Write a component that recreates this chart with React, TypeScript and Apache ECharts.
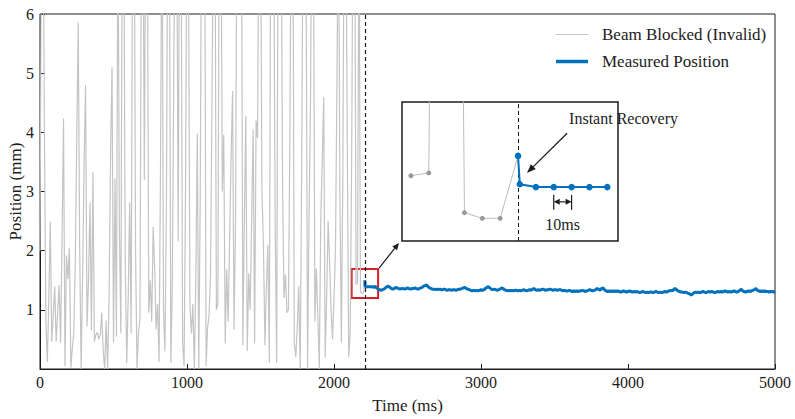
import React, { useEffect, useRef } from "react";
import * as echarts from "echarts";

// Sampling period of the position sensor (ms)
const SAMPLE_MS = 10;

// Readings while the beam is blocked, one every SAMPLE_MS from t = 0 ms (mm)
const blockedValues = [
  2.0, 8.0, 8.5, 4.0, 0.8, 0.12, 1.2, 2.49, 0.46, 0.9,
  1.39, 0.46, 0.95, 1.42, 0.44, 2.2, 4.23, 0.05, 1.92, 1.52,
  2.05, 0.02, 0.35, 0.62, 1.8, 3.9, 5.85, 2.0, 0.0, 1.6,
  3.5, 4.8, 0.72, 1.5, 2.82, 0.65, 3.33, 0.46, 0.58, 0.62,
  0.5, 0.58, 0.95, 0.3, 0.0, 0.82, 0.0, 1.2, 3.6, 5.1,
  0.45, 3.22, 0.55, 8.0, 2.4, 0.6, 8.2, 7.6, 1.8, 0.1,
  1.2, 2.82, 0.6, 7.8, 8.4, 2.0, 0.0, 0.62, 0.85, 7.5,
  8.2, 3.2, 8.5, 7.8, 0.95, 1.5, 0.8, 2.4, 1.7, 0.67,
  1.1, 0.12, 3.5, 8.5, 1.0, 0.3, 2.8, 8.2, 7.9, 0.1,
  1.4, 5.0, 8.6, 8.0, 2.16, 8.3, 7.7, 0.44, 0.05, 3.0,
  8.4, 6.9, 1.06, 0.6, 1.1, 0.0, 1.5, 3.98, 0.0, 2.9,
  8.5, 7.6, 8.0, 0.05, 0.7, 0.9, 1.6, 4.5, 8.3, 7.8,
  1.0, 1.1, 8.2, 8.8, 3.0, 3.96, 0.43, 1.68, 0.8, 2.2,
  3.6, 4.7, 0.66, 2.4, 8.1, 8.6, 7.9, 8.4, 0.4, 2.5,
  4.28, 0.3, 1.62, 1.0, 2.6, 4.05, 0.43, 4.2, 3.9, 8.4,
  7.9, 3.0, 2.1, 0.4, 1.4, 2.1, 0.1, 8.3, 8.7, 7.5,
  2.4, 0.1, 8.0, 8.6, 8.2, 3.1, 1.2, 1.6, 0.95, 1.0,
  4.0, 8.5, 8.0, 0.45, 0.2, 0.7, 1.4, 0.0, 3.3, 8.1,
  8.8, 7.0, 0.0, 2.5, 4.5, 8.4, 7.7, 0.8, 1.7, 0.9,
  0.0, 2.55, 3.5, 4.6, 0.2, 1.2, 2.5, 1.8, 1.0, 0.5,
  1.2, 2.0, 4.85, 8.2, 3.0, 0.45, 3.2, 8.5, 8.0, 4.0,
  0.2, 0.6, 3.5, 8.3, 8.7, 1.43, 1.44, 8.0, 1.3, 1.28,
  1.28, 1.5,
];

// Moment the beam is cleared and the first valid readings after it
const RECOVERY_MS = 2210;
const recoveryTimes = [2210, 2211];
const recoveryValues = [1.5, 1.4];

// Valid readings, one every SAMPLE_MS from t = 2220 ms (mm)
const MEASURED_START_MS = 2220;
const measuredValues = [
  1.39, 1.39, 1.39, 1.39, 1.39, 1.38, 1.40, 1.37, 1.35, 1.34,
  1.33, 1.34, 1.35, 1.37, 1.39, 1.40, 1.38, 1.36, 1.35, 1.36,
  1.38, 1.37, 1.36, 1.35, 1.36, 1.36, 1.35, 1.36, 1.37, 1.36,
  1.35, 1.36, 1.36, 1.37, 1.36, 1.35, 1.36, 1.37, 1.38, 1.40,
  1.41, 1.42, 1.39, 1.37, 1.36, 1.35, 1.35, 1.34, 1.35, 1.34,
  1.35, 1.34, 1.34, 1.35, 1.34, 1.33, 1.34, 1.34, 1.33, 1.34,
  1.34, 1.33, 1.34, 1.35, 1.35, 1.36, 1.37, 1.38, 1.36, 1.35,
  1.34, 1.33, 1.32, 1.33, 1.32, 1.33, 1.32, 1.33, 1.34, 1.33,
  1.34, 1.36, 1.38, 1.39, 1.37, 1.35, 1.34, 1.35, 1.34, 1.33,
  1.34, 1.35, 1.37, 1.36, 1.34, 1.33, 1.32, 1.33, 1.32, 1.33,
  1.32, 1.33, 1.33, 1.32, 1.33, 1.32, 1.33, 1.34, 1.33, 1.32,
  1.33, 1.34, 1.33, 1.35, 1.36, 1.34, 1.33, 1.34, 1.33, 1.34,
  1.35, 1.34, 1.33, 1.34, 1.34, 1.35, 1.34, 1.33, 1.34, 1.34,
  1.33, 1.34, 1.34, 1.33, 1.32, 1.33, 1.32, 1.32, 1.33, 1.32,
  1.31, 1.32, 1.31, 1.32, 1.31, 1.32, 1.32, 1.33, 1.32, 1.31,
  1.32, 1.33, 1.34, 1.33, 1.32, 1.33, 1.34, 1.36, 1.35, 1.33,
  1.36, 1.37, 1.34, 1.32, 1.31, 1.32, 1.31, 1.32, 1.31, 1.32,
  1.31, 1.32, 1.31, 1.30, 1.31, 1.32, 1.31, 1.30, 1.31, 1.32,
  1.31, 1.30, 1.31, 1.30, 1.31, 1.30, 1.29, 1.30, 1.31, 1.30,
  1.29, 1.30, 1.29, 1.30, 1.30, 1.29, 1.30, 1.31, 1.30, 1.29,
  1.30, 1.29, 1.30, 1.31, 1.30, 1.31, 1.32, 1.33, 1.32, 1.34,
  1.36, 1.34, 1.32, 1.31, 1.30, 1.30, 1.29, 1.30, 1.29, 1.28,
  1.27, 1.25, 1.27, 1.29, 1.30, 1.29, 1.30, 1.29, 1.30, 1.31,
  1.30, 1.29, 1.30, 1.31, 1.30, 1.31, 1.30, 1.29, 1.30, 1.31,
  1.30, 1.31, 1.30, 1.31, 1.32, 1.31, 1.30, 1.31, 1.30, 1.31,
  1.32, 1.31, 1.30, 1.31, 1.33, 1.35, 1.32, 1.31, 1.30, 1.31,
  1.32, 1.31, 1.32, 1.33, 1.34, 1.36, 1.33, 1.32, 1.31, 1.32,
  1.31, 1.32, 1.31, 1.31, 1.30, 1.31, 1.31, 1.30, 1.31,
];

// Region highlighted on the main plot and shown enlarged in the inset
const zoomBoxTime = [2120, 2300];
const zoomBoxPos = [1.2, 1.69];
const insetTime = [2145, 2266];
const insetPos = [1.2, 1.69];
const insetBlockedFrom = 2150;
const insetMeasuredTo = 2260;

// Annotation anchors inside the inset (ms, mm)
const calloutTip = [2215, 1.44];
const calloutTail = [2237.5, 1.58];
const periodMarks = [2230, 2240];
const periodPos = 1.338;
const periodLabelPos = [2235, 1.257];

const SERIF = '"Liberation Serif", "Times New Roman", serif';
const INK = "#1c1c1c";
const BLUE = "#0072bd";
const GRAY = "#c4c4c4";
const RED = "#d31f26";

// Legend keys: a horizontal stroke centred in a 32x14 box
const thinKey = "path://M0,0H32V0.01H0Z M0,6.4H32V7.6H0Z M0,13.99H32V14H0Z";
const thickKey = "path://M0,0H32V0.01H0Z M0,5.3H32V8.7H0Z M0,13.99H32V14H0Z";

const blockedData = blockedValues.map((v, i) => [i * SAMPLE_MS, v]);
const measuredData = [
  ...recoveryTimes.map((t, i) => [t, recoveryValues[i]]),
  ...measuredValues.map((v, i) => [MEASURED_START_MS + i * SAMPLE_MS, v]),
];

type Pt = number[];

function arrow(from: Pt, to: Pt, len = 8, half = 3.2, width = 1.2) {
  const dx = to[0] - from[0];
  const dy = to[1] - from[1];
  const d = Math.hypot(dx, dy) || 1;
  const ux = dx / d;
  const uy = dy / d;
  const bx = to[0] - ux * len;
  const by = to[1] - uy * len;
  return [
    {
      type: "line",
      z: 20,
      silent: true,
      shape: { x1: from[0], y1: from[1], x2: bx, y2: by },
      style: { stroke: INK, lineWidth: width },
    },
    {
      type: "polygon",
      z: 20,
      silent: true,
      shape: {
        points: [
          [to[0], to[1]],
          [bx - uy * half, by + ux * half],
          [bx + uy * half, by - ux * half],
        ],
      },
      style: { fill: INK },
    },
  ];
}

export default function App() {
  const ref = useRef<HTMLDivElement>(null);

  useEffect(() => {
    if (!ref.current) return;
    const chart = echarts.init(ref.current, undefined, { renderer: "svg" });

    const option: any = {
      animation: false,
      backgroundColor: "#ffffff",
      textStyle: { fontFamily: SERIF },
      grid: [
        {
          left: 40,
          top: 14,
          right: 20,
          bottom: 50,
          containLabel: false,
          outerBoundsMode: "none",
          show: true,
          borderColor: INK,
          borderWidth: 1,
          backgroundColor: "transparent",
        },
        {
          left: 402,
          top: 102,
          width: 216,
          height: 139,
          containLabel: false,
          outerBoundsMode: "none",
          show: true,
          z: 3,
          borderColor: INK,
          borderWidth: 1.5,
          backgroundColor: "#ffffff",
        },
      ],
      xAxis: [
        {
          type: "value",
          gridIndex: 0,
          min: 0,
          max: 5000,
          interval: 1000,
          name: "Time (ms)",
          nameLocation: "middle",
          nameGap: 28,
          nameMoveOverlap: false,
          nameTextStyle: { fontSize: 17, color: INK, fontFamily: SERIF },
          axisLine: { lineStyle: { color: INK, width: 1 } },
          axisTick: { inside: true, length: 5, lineStyle: { color: INK } },
          axisLabel: {
            fontSize: 16,
            color: INK,
            margin: 5,
            fontFamily: SERIF,
            formatter: (v: number) => String(v),
          },
          splitLine: { show: false },
        },
        {
          type: "value",
          gridIndex: 1,
          min: insetTime[0],
          max: insetTime[1],
          show: false,
          splitLine: { show: false },
        },
      ],
      yAxis: [
        {
          type: "value",
          gridIndex: 0,
          min: 0,
          max: 6,
          interval: 1,
          name: "Position (mm)",
          nameLocation: "middle",
          nameGap: 16,
          nameRotate: 90,
          nameMoveOverlap: false,
          nameTextStyle: { fontSize: 17, color: INK, fontFamily: SERIF },
          axisLine: { show: true, lineStyle: { color: INK, width: 1 } },
          axisTick: { show: true, inside: true, length: 5, lineStyle: { color: INK } },
          axisLabel: {
            fontSize: 16,
            color: INK,
            margin: 6,
            showMinLabel: false,
            fontFamily: SERIF,
            formatter: (v: number) => String(v),
          },
          splitLine: { show: false },
        },
        {
          type: "value",
          gridIndex: 1,
          min: insetPos[0],
          max: insetPos[1],
          show: false,
          splitLine: { show: false },
        },
      ],
      legend: {
        orient: "vertical",
        left: 551,
        top: 21,
        itemWidth: 32,
        itemHeight: 14,
        itemGap: 10,
        selectedMode: false,
        textStyle: { fontSize: 17, color: INK, fontFamily: SERIF, padding: [0, 0, 0, 9] },
        data: [
          { name: "Beam Blocked (Invalid)", icon: thinKey, itemStyle: { color: GRAY } },
          { name: "Measured Position", icon: thickKey, itemStyle: { color: BLUE } },
        ],
      },
      series: [
        {
          name: "Beam Blocked (Invalid)",
          type: "line",
          xAxisIndex: 0,
          yAxisIndex: 0,
          data: blockedData,
          symbol: "none",
          clip: true,
          z: 2,
          lineStyle: { color: GRAY, width: 1.2 },
          itemStyle: { color: GRAY },
          markLine: {
            silent: true,
            symbol: ["none", "none"],
            label: { show: false },
            lineStyle: { color: INK, type: [4, 3], width: 1.2 },
            data: [{ xAxis: RECOVERY_MS }],
          },
        },
        {
          name: "Measured Position",
          type: "line",
          xAxisIndex: 0,
          yAxisIndex: 0,
          data: measuredData,
          symbol: "none",
          clip: true,
          z: 3,
          lineStyle: { color: BLUE, width: 3 },
          itemStyle: { color: BLUE },
          markArea: {
            silent: true,
            itemStyle: { color: "rgba(0,0,0,0)", borderColor: RED, borderWidth: 2 },
            data: [
              [
                { xAxis: zoomBoxTime[0], yAxis: zoomBoxPos[0] },
                { xAxis: zoomBoxTime[1], yAxis: zoomBoxPos[1] },
              ],
            ],
          },
        },
        {
          name: "blocked-detail",
          type: "line",
          xAxisIndex: 1,
          yAxisIndex: 1,
          data: blockedData.filter((p) => p[0] >= insetBlockedFrom),
          symbol: "circle",
          symbolSize: 5,
          showSymbol: true,
          clip: true,
          z: 4,
          lineStyle: { color: "#bdbdbd", width: 1 },
          itemStyle: { color: "#9a9a9a" },
          markLine: {
            silent: true,
            symbol: ["none", "none"],
            label: { show: false },
            lineStyle: { color: INK, type: [4, 3], width: 1 },
            data: [{ xAxis: RECOVERY_MS }],
          },
        },
        {
          name: "measured-detail",
          type: "line",
          xAxisIndex: 1,
          yAxisIndex: 1,
          data: measuredData.filter((p) => p[0] <= insetMeasuredTo),
          symbol: "circle",
          symbolSize: 6.5,
          showSymbol: true,
          clip: true,
          z: 5,
          lineStyle: { color: BLUE, width: 2 },
          itemStyle: { color: BLUE },
        },
      ],
    };

    chart.setOption(option);

    const inset = (p: Pt) => chart.convertToPixel({ gridIndex: 1 }, p) as number[];
    const main = (p: Pt) => chart.convertToPixel({ gridIndex: 0 }, p) as number[];

    const boxCorner = main([zoomBoxTime[1], zoomBoxPos[1]]);
    const insetCorner = inset([insetTime[0], insetPos[0]]);
    const tip = inset(calloutTip);
    const tail = inset(calloutTail);
    const pa = inset([periodMarks[0], periodPos]);
    const pb = inset([periodMarks[1], periodPos]);
    const mid = [(pa[0] + pb[0]) / 2, pa[1]];
    const lbl = inset(periodLabelPos);

    const graphic: any[] = [
      ...arrow([boxCorner[0] + 1, boxCorner[1] - 1], [insetCorner[0] - 3, insetCorner[1] + 2], 7, 3),
      ...arrow(tail, tip, 9, 3.4, 1.3),
      ...arrow(mid, pa, 6, 3, 1.2),
      ...arrow(mid, pb, 6, 3, 1.2),
      {
        type: "line",
        z: 20,
        silent: true,
        shape: { x1: pa[0], y1: pa[1] - 7, x2: pa[0], y2: pa[1] + 8 },
        style: { stroke: INK, lineWidth: 1.2 },
      },
      {
        type: "line",
        z: 20,
        silent: true,
        shape: { x1: pb[0], y1: pb[1] - 7, x2: pb[0], y2: pb[1] + 8 },
        style: { stroke: INK, lineWidth: 1.2 },
      },
      {
        type: "text",
        z: 20,
        silent: true,
        x: tail[0] + 2,
        y: tail[1] - 15,
        style: {
          text: "Instant Recovery",
          fontFamily: SERIF,
          fontSize: 16,
          fill: INK,
          textAlign: "left",
          textVerticalAlign: "middle",
        },
      },
      {
        type: "text",
        z: 20,
        silent: true,
        x: lbl[0],
        y: lbl[1],
        style: {
          text: "10ms",
          fontFamily: SERIF,
          fontSize: 16,
          fill: INK,
          textAlign: "center",
          textVerticalAlign: "middle",
        },
      },
    ];

    chart.setOption({ graphic });

    return () => chart.dispose();
  }, []);

  return (
    <div
      ref={ref}
      style={{ position: "fixed", left: 0, top: 0, width: 795, height: 419, background: "#fff" }}
    />
  );
}
